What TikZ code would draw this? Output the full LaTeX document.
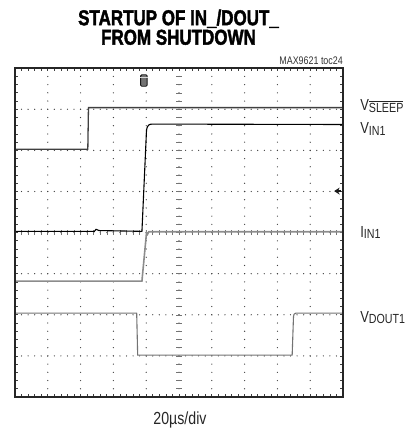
\documentclass[tikz,border=0pt]{standalone}
\usepackage{fontspec}
\setmainfont{Liberation Sans}
\newfontfamily\condfont[FakeStretch=0.81]{Liberation Sans}
\newfontfamily\titlefont[FakeStretch=0.79,FakeBold=1.8]{Liberation Sans Bold}
\usepackage{tikz}
\usetikzlibrary{positioning,calc,arrows.meta}
\tikzstyle{frame} = [draw=black!85,line width=2.6pt]
\tikzstyle{gdot} = [fill=black!75]
\tikzstyle{ftick} = [draw=black!75,line width=0.7pt]
\tikzstyle{axtick} = [draw=black!55,line width=0.6pt]
\tikzstyle{sleeptrace} = [draw=black!75,line width=1.3pt]
\tikzstyle{vintrace} = [draw=black,line width=1.1pt]
\tikzstyle{iintrace} = [draw=black!45,line width=1.6pt]
\tikzstyle{douttrace} = [draw=black!55,line width=1.1pt]
\tikzstyle{siglbl} = [inner sep=0pt,anchor=base west,text=black!85]
\newcommand{\siglabel}[2]{{\condfont\fontsize{16}{16}\selectfont #1}{\condfont\fontsize{13.2}{13.2}\selectfont\raisebox{-1.2pt}{#2}}}

\begin{document}
\begin{tikzpicture}[x=32.8pt,y=41.1pt]
    \useasboundingbox (-0.457,-0.827) rectangle (12.256,9.659);
    % grid dots
    \foreach \gx in {1,...,9}
        \foreach \gy in {1,...,39}
            \fill[gdot] (\gx,\gy/5) circle (0.65pt);
    \foreach \gy in {1,...,7}
        \foreach \gx in {1,...,49}
            \fill[gdot] (\gx/5,\gy) circle (0.65pt);
    % centre axes
    \foreach \gy in {1,...,39}
        \draw[axtick] ([xshift=-3pt]5,\gy/5) -- ([xshift=3pt]5,\gy/5);
    \foreach \gx in {1,...,49}
        \draw[axtick] ([yshift=-2.5pt]\gx/5,4) -- ([yshift=2.5pt]\gx/5,4);
    % frame ticks
    \foreach \gx in {1,...,49} {
        \draw[ftick] (\gx/5,8) -- ++(0,-3pt);
        \draw[ftick] (\gx/5,0) -- ++(0,3pt);
    }
    \foreach \gy in {1,...,39} {
        \draw[ftick] (0,\gy/5) -- ++(3pt,0);
        \draw[ftick] (10,\gy/5) -- ++(-3pt,0);
    }
    % traces
    \draw[douttrace] (0,2.04) -- (3.71,2.04) -- (3.74,1.02) -- (8.45,1.02) -- (8.49,1.95)
        .. controls (8.5,2.02) .. (8.56,2.04) -- (10,2.04);
    \draw[iintrace] (0,2.82) -- (3.87,2.82) -- (4.01,4.0) -- (4.04,3.96) -- (4.08,4.02) -- (10,4.02);
    \draw[vintrace] (0,4.03) -- (2.42,4.03) -- (2.47,4.08) -- (2.56,4.05) -- (3.87,4.03) -- (4.01,6.5)
        .. controls (4.04,6.62) and (4.09,6.64) .. (4.2,6.64) -- (10,6.63);
    \draw[sleeptrace] (0,6.03) -- (2.22,6.03) -- (2.24,7.04) -- (10,7.04);
    \draw[frame] (0,0) rectangle (10,8);
    % markers
    \node[draw=black!90,fill=black!55,rounded corners=1.2pt,minimum width=6.5pt,minimum height=11.5pt,
        inner sep=0pt,line width=0.9pt] (trig) at (3.93,7.70) {};
    \draw[white!85!black,line width=0.9pt] ([yshift=-2.8pt]trig.north west) -- ([yshift=-2.8pt]trig.north east);
    \draw[-{Stealth[length=5.5pt,width=7pt]},line width=1.4pt,black!90] (9.95,5.01) -- (9.73,5.01);
    % texts
    \node[inner sep=0pt,anchor=north,align=center,font=\titlefont\fontsize{21.5}{19.5}\selectfont]
        (title) at (4.985,9.43) {STARTUP OF IN\_/DOUT\_\\FROM SHUTDOWN};
    \node[inner sep=0pt,anchor=base east,text=black!80] (tocnum) at (10,8.08) {\condfont\fontsize{11}{11}\selectfont MAX9621 toc24};
    \node[siglbl] (vsleep) at (10.52,6.96) {\siglabel{V}{$\overline{\hbox{SLEEP}}$}};
    \node[siglbl] (vin) at (10.52,6.40) {\siglabel{V}{IN1}};
    \node[siglbl] (iin) at (10.52,3.89) {\siglabel{I}{IN1}};
    \node[siglbl] (vdout) at (10.52,1.82) {\siglabel{V}{DOUT1}};
    \node[inner sep=0pt,anchor=base,text=black!85] (tdiv) at (5.03,-0.68) {\condfont\fontsize{17.5}{17.5}\selectfont 20µs/div};
\end{tikzpicture}
\end{document}
